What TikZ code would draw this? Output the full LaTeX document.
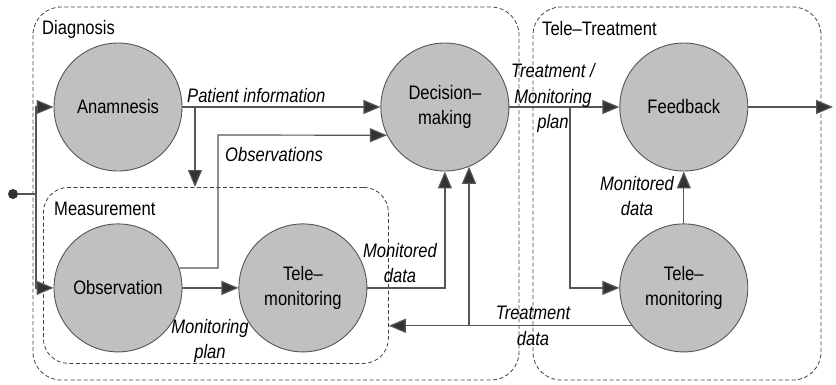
\documentclass[tikz,border=0pt]{standalone}
\usepackage{fontspec}
\setmainfont{Liberation Sans}[FakeStretch=0.85]
\usepackage{tikz}
\usetikzlibrary{arrows.meta, positioning, calc}

\definecolor{linegray}{HTML}{555555}
\definecolor{circfill}{HTML}{C0C0C0}
\definecolor{tipgray}{HTML}{333333}

\begin{document}
\begin{tikzpicture}[
    x=1pt, y=-1pt,
    font=\fontsize{19.5}{25.5}\selectfont,
    proc/.style={circle, draw=linegray, fill=circfill, line width=0.9pt,
                 minimum size=128pt, inner sep=0pt, align=center},
    grp/.style={draw=black!75, dash pattern=on 4pt off 2.5pt, line width=0.8pt,
                rounded corners=28pt},
    grptitle/.style={anchor=west, inner sep=1pt},
    line/.style={draw=linegray, line width=1.2pt},
    arr/.style={line, -{Triangle[length=17pt, width=14pt, fill=tipgray]}},
    lbl/.style={font=\fontsize{19.5}{25.5}\selectfont\itshape, align=center, inner sep=1pt},
]
\useasboundingbox (0,0) rectangle (836,384);

% groups
\draw[grp] (33,7) rectangle (519,380);
\draw[grp] (533,7) rectangle (821,380);
\node[grp, rounded corners=25pt, anchor=north west, minimum width=345pt,
      minimum height=176pt] (meas) at (43,187) {};
\node[grptitle] (diagT)  at (41,29)  {Diagnosis};
\node[grptitle] (measT)  at (53,209) {Measurement};
\node[grptitle] (treatT) at (541,29) {Tele--Treatment};

% processes
\node[proc] (anam) at (118,107) {Anamnesis};
\node[proc, below=52pt of anam] (obs)  {Observation};
\node[proc, right=56pt of obs]  (tmL)  {Tele--\\monitoring};
\node[proc, right=198pt of anam] (dec) {Decision--\\making};
\node[proc, right=110pt of dec] (feed) {Feedback};
\node[proc, below=52pt of feed] (tmR)  {Tele--\\monitoring};

% entry
\node[circle, fill=tipgray, minimum size=10pt, inner sep=0pt] (start) at (13,194) {};
\coordinate (split) at (36,194);
\draw[line] (start) -- (split);
\draw[arr] (split) |- (anam);
\draw[arr] (split) |- (obs);

% diagnosis
\draw[arr] (anam) -- (dec);
\node[lbl, anchor=base west] (pinfo) at (186,102) {Patient information};
\coordinate (pj) at (195,107);
\draw[arr] (pj) -- (pj |- meas.north);
\coordinate (oj) at (218,135);
\draw[arr] (obs.18) -| (oj) -- (dec.206);
\node[lbl, anchor=base west] (obsL) at (224,161) {Observations};

% measurement
\draw[arr] (obs) -- (tmL);
\node[lbl] (mplan) at (210,341) {Monitoring\\plan};
\draw[arr] (tmL) -| (dec.south);
\node[lbl] (mdata) at (400,263) {Monitored\\data};

% treatment
\draw[arr] (dec) -- (feed);
\node[lbl] (tplan) at (553,98) {Treatment /\\Monitoring\\plan};
\coordinate (tj) at (570,107);
\draw[arr] (tj) |- (tmR);
\coordinate (out) at (833,107);
\draw[arr] (feed) -- (out);
\draw[arr] (tmR) -- (feed);
\node[lbl] (mdata2) at (637,196) {Monitored\\data};
\coordinate (tdj) at (dec.292 |- tmR.216);
\draw[arr] (tmR.216) -- (meas.east |- tmR.216);
\draw[arr] (tdj) -- (dec.292);
\node[lbl] (tdata) at (533,326) {Treatment\\data};
\end{tikzpicture}
\end{document}
